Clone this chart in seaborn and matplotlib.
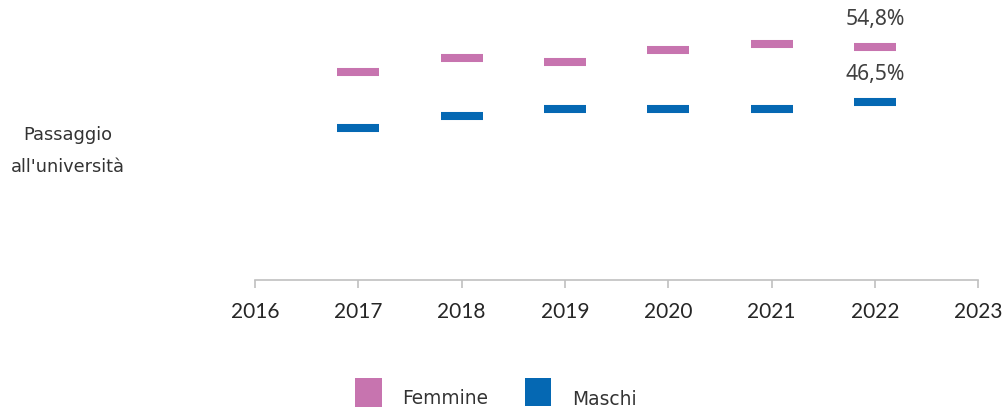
import matplotlib
matplotlib.use("Agg")
import matplotlib.pyplot as plt
from matplotlib.patches import Rectangle
import pandas as pd
import seaborn as sns

# Series values (percent) by year
years = [2017, 2018, 2019, 2020, 2021, 2022]
femmine = [51.1, 53.2, 52.5, 54.4, 55.3, 54.8]
maschi = [42.7, 44.4, 45.5, 45.5, 45.5, 46.5]
series_names = ["Femmine", "Maschi"]
tick_years = [2016, 2017, 2018, 2019, 2020, 2021, 2022, 2023]
row_label = "Passaggio\nall'università"

colors = {"Femmine": "#C774AF", "Maschi": "#0568B3"}

df = pd.DataFrame({
    "anno": years * 2,
    "valore": femmine + maschi,
    "sesso": [series_names[0]] * len(years) + [series_names[1]] * len(years),
})

sns.set_theme(style="white")
plt.rcParams["font.family"] = ["DejaVu Sans"]

fig = plt.figure(figsize=(10.02, 4.10), dpi=100)
ax = fig.add_axes([0.2545, 0.3154, 0.7219, 0.6526])

sns.scatterplot(
    data=df, x="anno", y="valore", hue="sesso", palette=colors,
    marker="_", s=30.2 ** 2, linewidth=5.8, legend=False, ax=ax,
)

ax.set_xlim(2016, 2023)
ax.set_ylim(20, 60)
ax.set_xticks(tick_years)
ax.set_xticklabels([str(y) for y in tick_years], fontfamily="Lato",
                   fontsize=15, color="#262626")
ax.set_yticks([])
ax.set_xlabel("")
ax.set_ylabel("")

for side in ["top", "right", "left"]:
    ax.spines[side].set_visible(False)
ax.spines["bottom"].set_color("#C0C0C0")
ax.spines["bottom"].set_linewidth(1.2)
ax.tick_params(axis="x", direction="out", length=5.5, width=1.2,
               color="#C0C0C0", pad=9.5, bottom=True)

# Value labels for the last year
last = len(years) - 1
for vals in (femmine, maschi):
    ax.annotate(f"{vals[last]:.1f}%".replace(".", ","),
                xy=(years[last], vals[last]), xytext=(0, 20.5),
                textcoords="offset points", ha="center", va="center",
                fontfamily="Noto Sans", fontsize=15.2, color="#404040")

fig.text(0.068, 0.632, row_label, ha="center", va="center",
         fontsize=12.8, color="#333333", linespacing=2.0)

# Legend: colour swatches with labels set slightly below them
legend_items = [
    # name, swatch (x0, y0, w, h), text (x, baseline y) in figure fraction
    (series_names[0], (0.3543, 0.0060, 0.0270, 0.0707), (0.4009, 0.0150)),
    (series_names[1], (0.5240, 0.0085, 0.0259, 0.0683), (0.5706, 0.0115)),
]
for name, (x0, y0, w, h), (tx, ty) in legend_items:
    fig.add_artist(Rectangle((x0, y0), w, h, transform=fig.transFigure,
                             facecolor=colors[name], edgecolor="none"))
    fig.text(tx, ty, name, ha="left", va="baseline", fontsize=13.4,
             color="#333333")

fig.savefig("out.png", dpi=100)
